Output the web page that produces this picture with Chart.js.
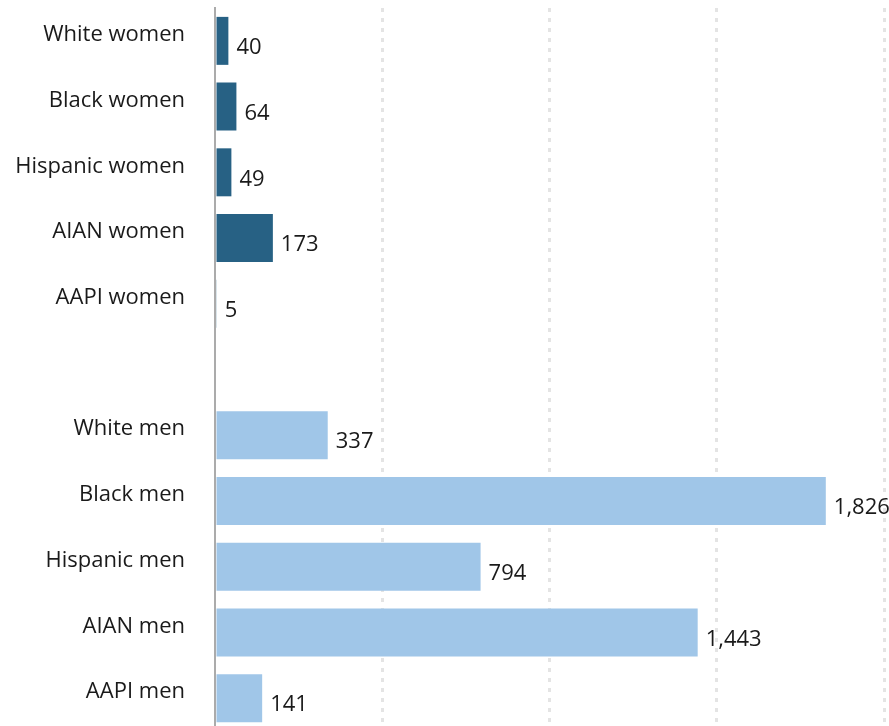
<!DOCTYPE html>
<html lang="en">
<head>
    <meta charset="UTF-8">
    <title>Bar chart</title>
    <script src="https://cdn.jsdelivr.net/npm/chart.js"></script>
    <style>
        html, body {
            margin: 0;
            padding: 0;
            background: #fff;
            overflow: hidden;
        }
        .chart-box {
            position: relative;
            width: 889px;
            height: 731px;
        }
    </style>
</head>
<body>
    <div class="chart-box">
        <canvas id="barChart"></canvas>
    </div>

    <script>
        // Data
        const categories = [
            'White women', 'Black women', 'Hispanic women', 'AIAN women', 'AAPI women',
            '',
            'White men', 'Black men', 'Hispanic men', 'AIAN men', 'AAPI men'
        ];
        const values = [40, 64, 49, 173, 5, null, 337, 1826, 794, 1443, 141];
        const groups = ['women', 'women', 'women', 'women', 'women', '', 'men', 'men', 'men', 'men', 'men'];
        const xTicks = [0, 500, 1000, 1500, 2000];

        const groupColors = { women: '#276184', men: '#a0c6e8', '': 'transparent' };
        const fontFamily = '"Open Sans", sans-serif';
        const fontSize = 22;
        const textColor = '#1a1a1a';

        // value labels at the end of each bar
        const valueLabels = {
            id: 'valueLabels',
            afterDatasetsDraw(chart) {
                const ctx = chart.ctx;
                const meta = chart.getDatasetMeta(0);
                ctx.save();
                ctx.font = fontSize + 'px ' + fontFamily;
                ctx.fillStyle = textColor;
                ctx.textAlign = 'left';
                ctx.textBaseline = 'middle';
                meta.data.forEach((bar, i) => {
                    if (values[i] === null) return;
                    ctx.fillText(values[i].toLocaleString('en-US'), bar.x + 8, bar.y + 7);
                });
                ctx.restore();
            }
        };

        const ctx = document.getElementById('barChart').getContext('2d');
        new Chart(ctx, {
            type: 'bar',
            data: {
                labels: categories,
                datasets: [{
                    data: values,
                    backgroundColor: groups.map(g => groupColors[g]),
                    borderWidth: 0,
                    categoryPercentage: 1,
                    barPercentage: 0.73
                }]
            },
            options: {
                indexAxis: 'y',
                responsive: true,
                maintainAspectRatio: false,
                animation: false,
                layout: {
                    padding: { top: 8, right: 5, bottom: 0, left: 0 }
                },
                plugins: {
                    legend: { display: false },
                    tooltip: { enabled: false }
                },
                scales: {
                    x: {
                        min: 0,
                        max: 2000,
                        afterBuildTicks: scale => {
                            scale.ticks = xTicks.map(v => ({ value: v }));
                        },
                        afterFit: scale => {
                            scale.height = 0;
                            scale.paddingLeft = 0;
                            scale.paddingRight = 0;
                        },
                        ticks: { display: false },
                        grid: {
                            drawTicks: false,
                            lineWidth: 3,
                            color: c => c.tick && c.tick.value === 0 ? 'transparent' : '#e4e4e4'
                        },
                        border: { display: false, dash: [4, 6] }
                    },
                    y: {
                        afterFit: scale => {
                            scale.width = 215;
                            scale.paddingTop = 0;
                            scale.paddingBottom = 0;
                        },
                        grid: { display: false, drawTicks: false },
                        border: { display: true, color: '#ababab', width: 2, z: 1 },
                        ticks: {
                            padding: 30,
                            labelOffset: -6,
                            color: textColor,
                            font: { family: fontFamily, size: fontSize }
                        }
                    }
                }
            },
            plugins: [valueLabels]
        });
    </script>
</body>
</html>
